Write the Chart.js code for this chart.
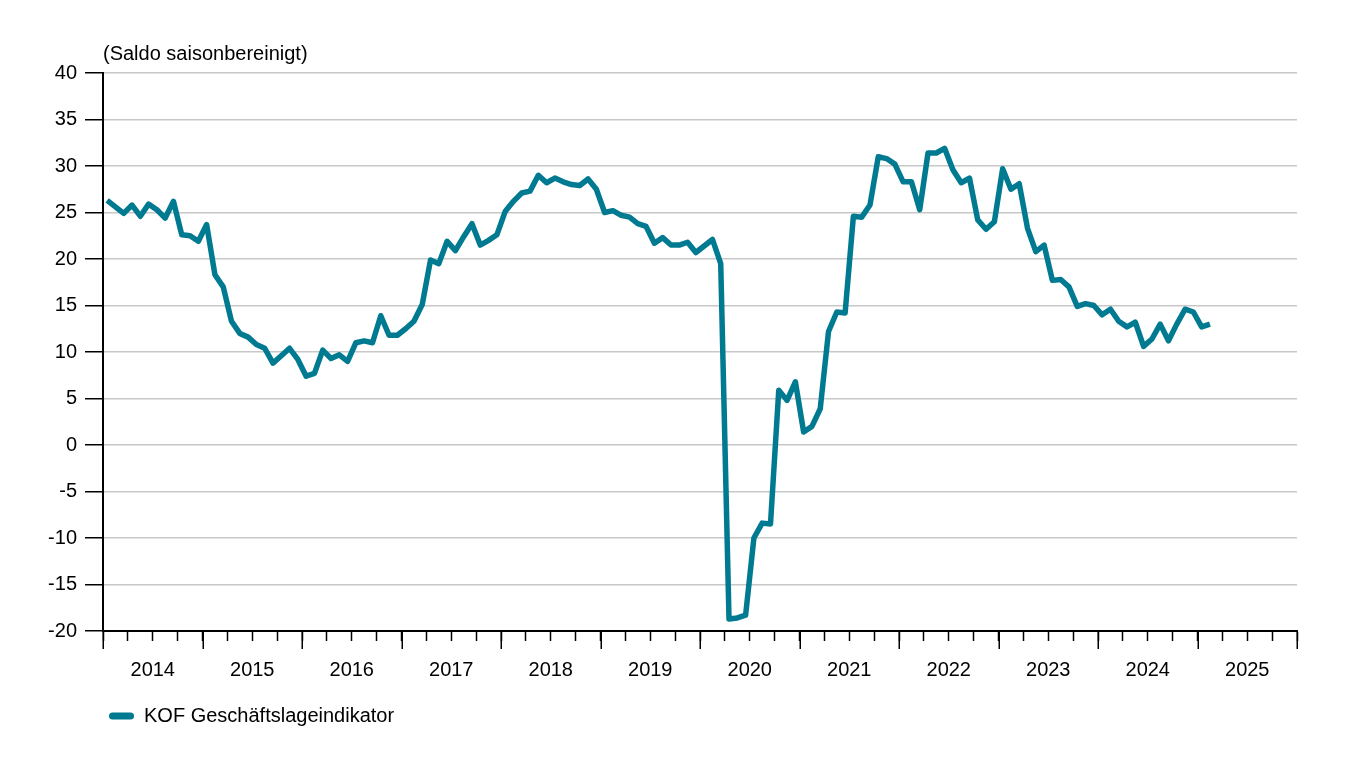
<!DOCTYPE html>
<html>
<head>
<meta charset="utf-8">
<title>KOF Geschäftslageindikator</title>
<script src="https://cdn.jsdelivr.net/npm/chart.js@4.4.1/dist/chart.umd.min.js"></script>
<style>
  html, body { margin: 0; padding: 0; background: #fff; }
  #chart { display: block; }
</style>
</head>
<body>
<canvas id="chart" width="1367" height="782"></canvas>
<script>
// Data: monthly values, Jan 2014 - Feb 2025
const startYear = 2014;
const endYear = 2026;
const yearLabels = ["2014", "2015", "2016", "2017", "2018", "2019", "2020", "2021", "2022", "2023", "2024", "2025"];
const seriesName = "KOF Geschäftslageindikator";
const axisTitle = "(Saldo saisonbereinigt)";
const geschaeftslage = [
  26.3, 25.6, 24.9, 25.8, 24.6, 25.9, 25.3, 24.4, 26.2, 22.6, 22.5, 21.9,
  23.7, 18.3, 17.0, 13.3, 12.0, 11.6, 10.8, 10.4, 8.8, 9.6, 10.4, 9.2,
  7.4, 7.7, 10.2, 9.3, 9.7, 9.0, 11.0, 11.2, 11.0, 13.9, 11.8, 11.8,
  12.5, 13.3, 15.1, 19.9, 19.5, 21.9, 20.9, 22.4, 23.8, 21.5, 22.0, 22.6,
  25.1, 26.2, 27.1, 27.3, 29.0, 28.2, 28.7, 28.3, 28.0, 27.9, 28.6, 27.5,
  25.0, 25.2, 24.7, 24.5, 23.8, 23.5, 21.7, 22.3, 21.5, 21.5, 21.8, 20.7,
  21.4, 22.1, 19.5, -18.7, -18.6, -18.3, -10.0, -8.4, -8.5, 5.9, 4.8, 6.8,
  1.4, 2.0, 3.9, 12.2, 14.3, 14.2, 24.6, 24.5, 25.8, 31.0, 30.8, 30.2,
  28.3, 28.3, 25.3, 31.4, 31.4, 31.9, 29.6, 28.2, 28.7, 24.2, 23.2, 24.0,
  29.7, 27.5, 28.1, 23.3, 20.8, 21.5, 17.7, 17.8, 17.0, 14.9, 15.2, 15.0,
  14.0, 14.6, 13.3, 12.7, 13.2, 10.6, 11.4, 13.0, 11.2, 13.0, 14.6, 14.3,
  12.7, 13.0
];

const lineColor = '#007a91';

// points placed in the middle of each month
const points = geschaeftslage.map(function (value, i) {
  return { x: startYear + (i + 0.5) / 12, y: value };
});

Chart.defaults.font.family = '"Liberation Sans", Arial, Helvetica, sans-serif';
Chart.defaults.font.size = 20;
Chart.defaults.color = '#000';

// long ticks at the year boundaries
const yearTicks = {
  id: 'yearTicks',
  afterDraw(chart) {
    const ctx = chart.ctx;
    const x = chart.scales.x;
    ctx.save();
    ctx.strokeStyle = '#000';
    ctx.lineWidth = 1.5;
    for (let year = startYear; year <= endYear; year++) {
      const px = Math.round(x.getPixelForValue(year)) + 0.25;
      ctx.beginPath();
      ctx.moveTo(px, x.top);
      ctx.lineTo(px, x.top + 18);
      ctx.stroke();
    }
    ctx.restore();
  }
};

const ctx = document.querySelector('#chart').getContext('2d');
const chart = new Chart(ctx, {
  type: 'line',
  data: {
    datasets: [{
      label: seriesName,
      data: points,
      borderColor: lineColor,
      backgroundColor: lineColor,
      borderWidth: 5.5,
      borderJoinStyle: 'round',
      pointRadius: 0,
      tension: 0
    }]
  },
  options: {
    responsive: false,
    animation: false,
    events: [],
    layout: {
      padding: { top: 42, right: 70, bottom: 46, left: 0 }
    },
    plugins: {
      title: {
        display: true,
        text: axisTitle,
        align: 'start',
        fullSize: false,
        font: { size: 20, weight: 'normal' },
        padding: { top: 0, bottom: 7 }
      },
      legend: {
        display: true,
        position: 'bottom',
        align: 'start',
        fullSize: false,
        labels: {
          boxWidth: 25,
          boxHeight: 7,
          useBorderRadius: true,
          borderRadius: 3.5,
          padding: 6,
          font: { size: 20 },
          generateLabels(chart) {
            const items = Chart.defaults.plugins.legend.labels.generateLabels(chart);
            items.forEach(function (item) {
              item.lineWidth = 0;
              item.fillStyle = lineColor;
            });
            return items;
          }
        }
      },
      tooltip: { enabled: false }
    },
    scales: {
      x: {
        type: 'linear',
        min: startYear,
        max: endYear,
        afterBuildTicks(scale) {
          let ticks = [];
          for (let q = startYear * 4; q <= endYear * 4; q++) {
            ticks.push({ value: q / 4 });
          }
          scale.ticks = ticks;
        },
        afterFit(scale) {
          scale.height = 69;
        },
        ticks: {
          autoSkip: false,
          maxRotation: 0,
          padding: 17,
          callback(value) {
            const idx = value - 0.5 - startYear;
            if (Number.isInteger(idx) && yearLabels[idx] !== undefined) {
              return yearLabels[idx];
            }
            return '';
          }
        },
        grid: {
          drawOnChartArea: false,
          tickLength: 10,
          tickColor: '#000',
          tickWidth: 1.5
        },
        border: { display: true, color: '#000', width: 2 }
      },
      y: {
        min: -20,
        max: 40,
        afterFit(scale) {
          scale.width = 103;
        },
        ticks: {
          stepSize: 5,
          padding: 8
        },
        grid: {
          color: '#c8c8c8',
          lineWidth: 1.5,
          tickLength: 18,
          tickColor: '#000',
          tickWidth: 1.5
        },
        border: { display: true, color: '#000', width: 2 }
      }
    }
  },
  plugins: [yearTicks]
});
</script>
</body>
</html>
